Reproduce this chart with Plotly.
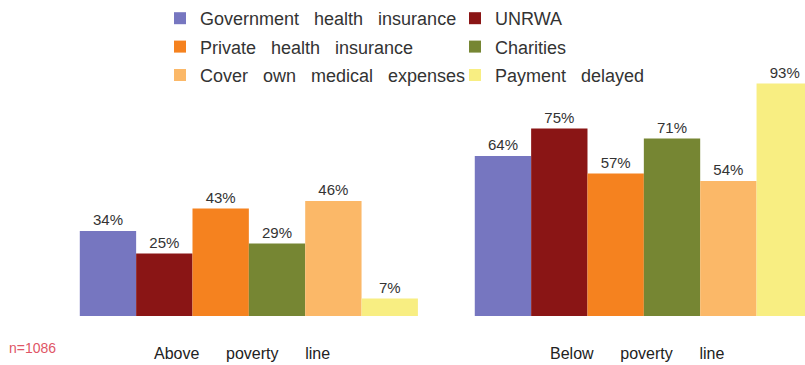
import plotly.graph_objects as go

# categories and series
groups = ["Above poverty line", "Below poverty line"]
series = ["Government health insurance", "UNRWA", "Private health insurance",
          "Charities", "Cover own medical expenses", "Payment delayed"]
values = [
    [34, 64],
    [25, 75],
    [43, 57],
    [29, 71],
    [46, 54],
    [7, 93],
]
colors = ["#7676c0", "#8a1515", "#f5821f", "#768633", "#fbb868", "#f8ee82"]
legend_of = ["legend", "legend2", "legend", "legend2", "legend", "legend2"]

NB = "\u00a0"


def spaced(s, n):
    return (NB * n).join(s.split(" "))


fig = go.Figure()
for name, vals, col, lg in zip(series, values, colors, legend_of):
    fig.add_trace(go.Bar(
        x=[0, 1], y=vals, name=spaced(name, 3), legend=lg, legendgroup=name,
        marker=dict(color=col, line=dict(width=0)),
        text=[f"{v}%" for v in vals], textposition="outside",
        textfont=dict(size=15, color="#333333"), cliponaxis=False,
    ))

legend_style = dict(y=1.0, yref="container", xanchor="left", yanchor="top",
                    orientation="v", font=dict(size=18, color="#333333"),
                    tracegroupgap=2, itemwidth=30, bgcolor="rgba(0,0,0,0)")

fig.update_layout(
    width=805, height=365,
    margin=dict(l=0, r=0, t=66, b=49, autoexpand=False),
    paper_bgcolor="white", plot_bgcolor="white",
    barmode="group", bargap=0.144, bargroupgap=0,
    font=dict(family="Liberation Sans, Arial, sans-serif", color="#333333"),
    xaxis=dict(type="linear", range=[-0.630, 1.408], showticklabels=False,
               showgrid=False, zeroline=False, showline=False, ticks=""),
    yaxis=dict(range=[0, 100], visible=False),
    legend=dict(x=160 / 805, **legend_style),
    legend2=dict(x=455 / 805, **legend_style),
)

# group labels under the bars
for i, g in enumerate(groups):
    fig.add_annotation(text=spaced(g, 6), x=i, xref="x", xshift=-7,
                       y=-(353 - 316) / 250, yref="paper", yanchor="middle",
                       showarrow=False, font=dict(size=16, color="#222222"))

fig.add_annotation(text="n=1086", xref="paper", yref="paper", x=7 / 805,
                   y=-(348 - 316) / 250, xanchor="left", yanchor="middle",
                   showarrow=False, font=dict(size=14, color="#e05566"))

fig.write_html("out.html", config={"displayModeBar": False},
               post_script="document.body.style.margin='0';")
